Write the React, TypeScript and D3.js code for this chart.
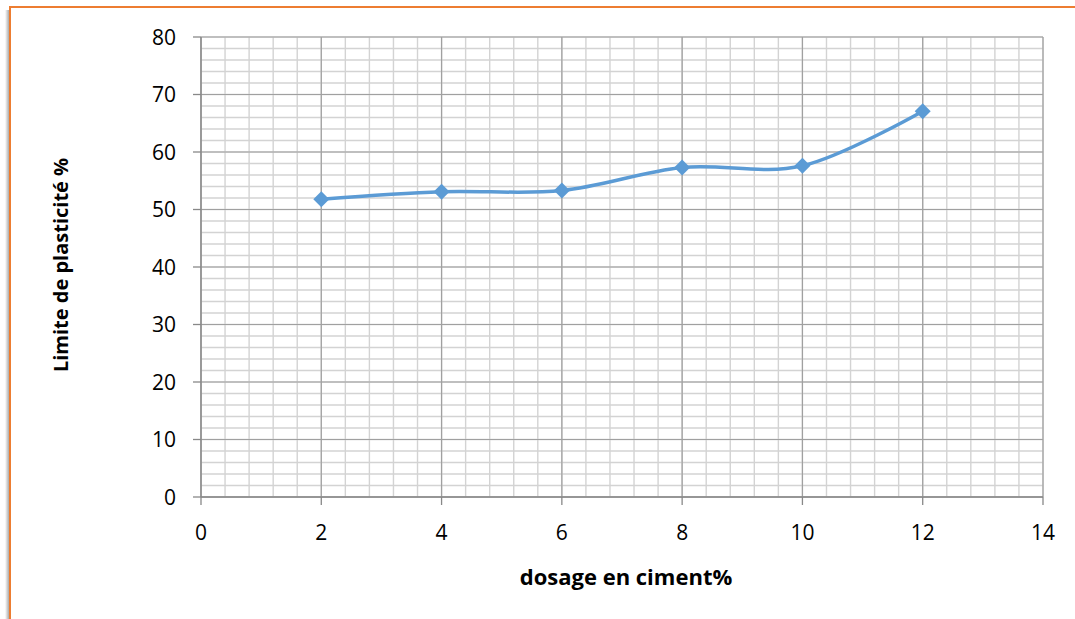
import React from "react";
import * as d3 from "d3";

const dosage = [2, 4, 6, 8, 10, 12];
const limitePlasticite = [51.8, 53.1, 53.3, 57.3, 57.6, 67.1];
const xTicks = [0, 2, 4, 6, 8, 10, 12, 14];
const yTicks = [0, 10, 20, 30, 40, 50, 60, 70, 80];
const xTitle = "dosage en ciment%";
const yTitle = "Limite de plasticité %";

const W = 1075;
const H = 619;
const FONT = "'Open Sans', 'Liberation Sans', sans-serif";

export default function App() {
  const x = d3.scaleLinear().domain([0, 14]).range([201, 1043]);
  const y = d3.scaleLinear().domain([0, 80]).range([497, 37]);

  const xMinor = d3.range(0, 14.0001, 0.4);
  const yMinor = d3.range(0, 80.0001, 2);

  const line = d3
    .line<number>()
    .x((_, i) => x(dosage[i]))
    .y((d) => y(d))
    .curve(d3.curveCatmullRom.alpha(0));

  const pts = dosage.map((d, i) => [x(d), y(limitePlasticite[i])]);

  return (
    <svg
      width={W}
      height={H}
      style={{ position: "absolute", left: 0, top: 0, background: "#fff" }}
      fontFamily={FONT}
    >
      <defs>
        <linearGradient id="shadowL" x1="0" x2="1" y1="0" y2="0">
          <stop offset="0" stopColor="#fff" />
          <stop offset="1" stopColor="#aaa" />
        </linearGradient>
      </defs>
      {/* frame */}
      <rect x={5} y={10} width={4} height={H} fill="url(#shadowL)" />
      <line x1={10} x2={W} y1={7} y2={7} stroke="#ED7D31" strokeWidth={2} />
      <line x1={10} x2={10} y1={6} y2={H} stroke="#ED7D31" strokeWidth={2} />

      {/* minor grid */}
      <g stroke="#D3D3D3" strokeWidth={1.4}>
        {xMinor.map((v, i) => (
          <line key={"xm" + i} x1={x(v)} x2={x(v)} y1={y(80)} y2={y(0)} />
        ))}
        {yMinor.map((v, i) => (
          <line key={"ym" + i} x1={x(0)} x2={x(14)} y1={y(v)} y2={y(v)} />
        ))}
      </g>
      {/* major grid */}
      <g stroke="#A0A0A0" strokeWidth={1.2}>
        {xTicks.map((v) => (
          <line key={"xM" + v} x1={x(v)} x2={x(v)} y1={y(80)} y2={y(0)} />
        ))}
        {yTicks.map((v) => (
          <line key={"yM" + v} x1={x(0)} x2={x(14)} y1={y(v)} y2={y(v)} />
        ))}
      </g>
      {/* axes */}
      <g stroke="#888" strokeWidth={1.3}>
        <line x1={x(0)} x2={x(0)} y1={y(80)} y2={y(0)} />
        <line x1={x(0)} x2={x(14)} y1={y(0)} y2={y(0)} />
        {yTicks.map((v) => (
          <line key={"yt" + v} x1={x(0) - 8} x2={x(0)} y1={y(v)} y2={y(v)} />
        ))}
        {xTicks.map((v) => (
          <line key={"xt" + v} x1={x(v)} x2={x(v)} y1={y(0)} y2={y(0) + 8} />
        ))}
      </g>
      {/* tick labels */}
      <g fontSize={21} fill="#000">
        {yTicks.map((v) => (
          <text key={"yl" + v} x={176} y={y(v)} dy="0.36em" textAnchor="end">
            {v}
          </text>
        ))}
        {xTicks.map((v) => (
          <text key={"xl" + v} x={x(v)} y={540} textAnchor="middle">
            {v}
          </text>
        ))}
      </g>
      {/* series */}
      <path d={line(limitePlasticite) || ""} fill="none" stroke="#5B9BD5" strokeWidth={3.5} />
      {pts.map(([px, py], i) => (
        <path
          key={"mk" + i}
          d={`M${px},${py - 8}L${px + 8},${py}L${px},${py + 8}L${px - 8},${py}Z`}
          fill="#5B9BD5"
        />
      ))}
      {/* titles */}
      <text x={626} y={585} textAnchor="middle" fontWeight="bold" fontSize={22}>
        {xTitle}
      </text>
      <text
        transform={`translate(68,265) rotate(-90)`}
        textAnchor="middle"
        fontWeight="bold"
        fontSize={20}
      >
        {yTitle}
      </text>
    </svg>
  );
}
